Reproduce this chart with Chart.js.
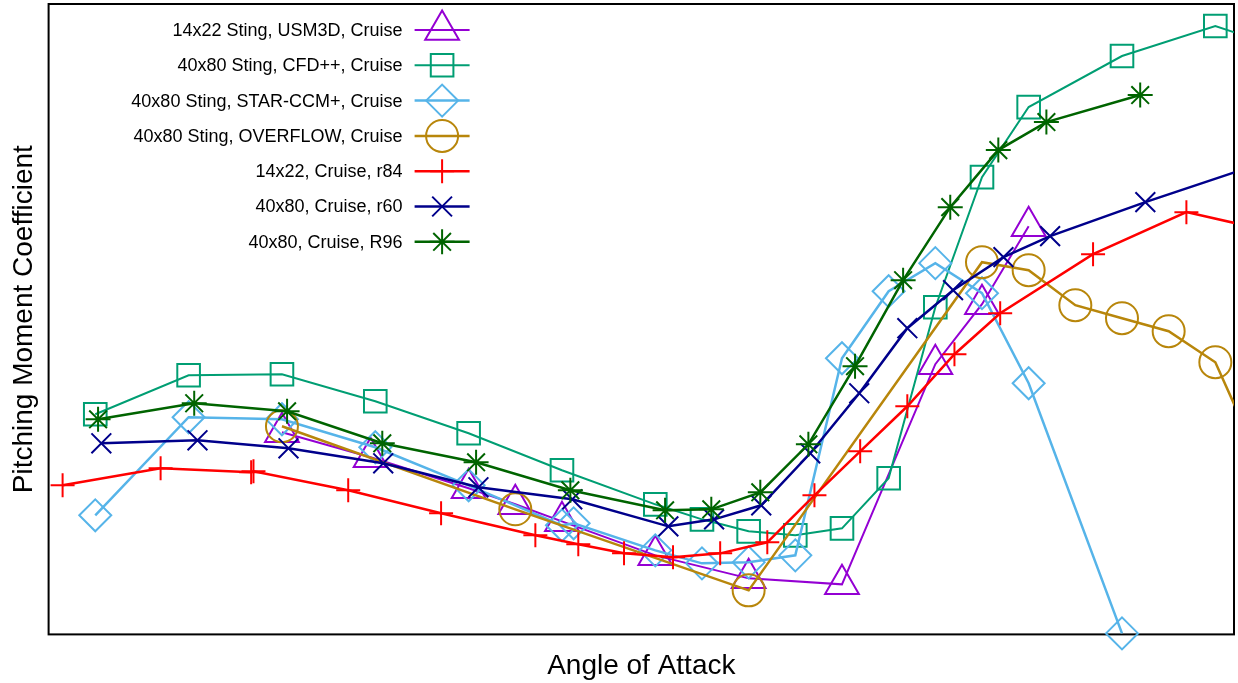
<!DOCTYPE html>
<html>
<head>
<meta charset="utf-8">
<title>Pitching Moment Coefficient vs Angle of Attack</title>
<script src="https://cdn.jsdelivr.net/npm/chart.js@4/dist/chart.umd.min.js"></script>
<style>
  html, body { margin: 0; padding: 0; background: #fff; }
  #chart-wrap { width: 1238px; height: 683px; }
</style>
</head>
<body>
<div id="chart-wrap"><canvas id="cm-chart" width="1238" height="683"></canvas></div>
<script>
// Series labels
const seriesNames = [
  '14x22 Sting, USM3D, Cruise',
  '40x80 Sting, CFD++, Cruise',
  '40x80 Sting, STAR-CCM+, Cruise',
  '40x80 Sting, OVERFLOW, Cruise',
  '14x22, Cruise, r84',
  '40x80, Cruise, r60',
  '40x80, Cruise, R96'
];

// CFD runs (angle of attack, deg / pitching moment)
const alphaUsm3d = [0, 1.9, 4, 5, 6, 8, 10, 12, 14, 15, 16];
const cmUsm3d = [-0.118, -0.143, -0.174, -0.190, -0.207, -0.241, -0.264, -0.270, -0.050, 0.010, 0.088];

const alphaCfdpp = [-4, -2, 0, 2, 4, 6, 8, 9, 10, 11, 12, 13, 14, 15, 16, 18, 20, 22];
const cmCfdpp = [-0.100, -0.061, -0.060, -0.087, -0.119, -0.156, -0.190, -0.205, -0.217, -0.221, -0.214, -0.164, 0.007, 0.137, 0.207, 0.258, 0.288, 0.257];

const alphaStar = [-4, -2, 0, 2, 4, 6, 6.25, 8, 9, 10, 11, 12, 13, 14, 15, 16, 18];
const cmStar = [-0.201, -0.103, -0.105, -0.133, -0.171, -0.211, -0.209, -0.236, -0.249, -0.248, -0.241, -0.044, 0.023, 0.051, 0.021, -0.069, -0.319];

const alphaOverflow = [0, 5, 10, 15, 16, 17, 18, 19, 20, 21];
const cmOverflow = [-0.112, -0.195, -0.276, 0.052, 0.044, 0.009, -0.004, -0.017, -0.048, -0.152];

// Wind tunnel runs
const alphaR84 = [-4.7, -2.6, -0.66, -0.61, 1.42, 3.41, 5.43, 6.35, 7.33, 8.38, 9.39, 10.40, 11.41, 12.39, 13.40, 14.41, 15.39, 17.38, 19.38, 21.38];
const cmR84 = [-0.171, -0.154, -0.158, -0.157, -0.176, -0.199, -0.221, -0.230, -0.239, -0.243, -0.239, -0.228, -0.181, -0.137, -0.092, -0.040, 0.001, 0.060, 0.102, 0.081];

const alphaR60 = [-3.87, -1.81, 0.14, 2.17, 4.21, 6.22, 8.28, 9.26, 10.27, 11.32, 12.37, 13.40, 14.38, 15.46, 16.46, 18.50, 21];
const cmR60 = [-0.129, -0.126, -0.134, -0.149, -0.173, -0.185, -0.212, -0.205, -0.191, -0.139, -0.079, -0.014, 0.024, 0.057, 0.078, 0.112, 0.151];

const alphaR96 = [-3.94, -1.88, 0.11, 2.15, 4.16, 6.18, 8.21, 9.20, 10.25, 11.28, 12.28, 13.31, 14.32, 15.35, 16.38, 18.39];
const cmR96 = [-0.105, -0.089, -0.097, -0.129, -0.148, -0.176, -0.196, -0.195, -0.178, -0.130, -0.052, 0.034, 0.107, 0.164, 0.192, 0.219];

Chart.defaults.font.family = '"Liberation Sans", Arial, sans-serif';
Chart.defaults.color = '#000';

// Build one line dataset from an alpha / cm pair
function makeSeries(index, alphas, cms, color, style, radius, width) {
  return {
    label: seriesNames[index],
    data: alphas.map((a, i) => ({ x: a, y: cms[i] })),
    borderColor: color,
    backgroundColor: 'rgba(0,0,0,0)',
    borderWidth: width,
    pointStyle: style,
    pointRadius: radius,
    pointBorderWidth: 2,
    pointBorderColor: color,
    pointBackgroundColor: 'rgba(0,0,0,0)',
    fill: false,
    tension: 0,
    clip: { left: 0, top: 20, right: 0, bottom: 20 },
    order: 7 - index
  };
}

// Box around the plot area
const frameBox = {
  id: 'frameBox',
  beforeDatasetsDraw(chart) {
    const { ctx, chartArea: a } = chart;
    ctx.save();
    ctx.strokeStyle = '#000';
    ctx.lineWidth = 2;
    ctx.strokeRect(a.left, a.top, a.right - a.left, a.bottom - a.top);
    ctx.restore();
  }
};

// Legend in the upper left corner, text on the left and sample on the right
const cornerLegend = {
  id: 'cornerLegend',
  afterDraw(chart) {
    const { ctx, chartArea: a } = chart;
    const textRight = a.left + 354;
    const lineStart = a.left + 366;
    const lineEnd = a.left + 421;
    ctx.save();
    ctx.font = '18px "Liberation Sans", Arial, sans-serif';
    ctx.textAlign = 'right';
    ctx.textBaseline = 'middle';
    chart.data.datasets.forEach((ds, i) => {
      const y = a.top + 26 + i * 35.3;
      ctx.fillStyle = '#000';
      ctx.fillText(ds.label, textRight, y + 1);
      ctx.strokeStyle = ds.borderColor;
      ctx.lineWidth = ds.borderWidth;
      ctx.beginPath();
      ctx.moveTo(lineStart, y);
      ctx.lineTo(lineEnd, y);
      ctx.stroke();
      ctx.fillStyle = 'rgba(0,0,0,0)';
      ctx.lineWidth = ds.pointBorderWidth;
      Chart.helpers.drawPoint(ctx, {
        pointStyle: ds.pointStyle,
        radius: ds.pointRadius,
        borderWidth: ds.pointBorderWidth,
        rotation: 0
      }, (lineStart + lineEnd) / 2, y);
    });
    ctx.restore();
  }
};

const ctx = document.getElementById('cm-chart').getContext('2d');
const cmChart = new Chart(ctx, {
  type: 'line',
  data: {
    datasets: [
      makeSeries(0, alphaUsm3d, cmUsm3d, '#9400D3', 'triangle', 19.5, 2),
      makeSeries(1, alphaCfdpp, cmCfdpp, '#009E73', 'rect', 16, 2),
      makeSeries(2, alphaStar, cmStar, '#56B4E9', 'rectRot', 16, 2.5),
      makeSeries(3, alphaOverflow, cmOverflow, '#B8860B', 'circle', 16, 2.5),
      makeSeries(4, alphaR84, cmR84, '#FF0000', 'cross', 12, 2.5),
      makeSeries(5, alphaR60, cmR60, '#00008B', 'crossRot', 14, 2.5),
      makeSeries(6, alphaR96, cmR96, '#006400', 'star', 12.5, 2.5)
    ]
  },
  options: {
    responsive: false,
    animation: false,
    devicePixelRatio: 1,
    events: [],
    layout: { autoPadding: false, padding: { top: 4, right: 4, bottom: 0, left: 0 } },
    scales: {
      x: {
        type: 'linear',
        min: -5,
        max: 20.4,
        ticks: { display: false },
        grid: { display: false, drawTicks: false },
        border: { display: false },
        title: {
          display: true,
          text: 'Angle of Attack',
          color: '#000',
          font: { size: 28 },
          padding: { top: 15, bottom: 0 }
        }
      },
      y: {
        type: 'linear',
        min: -0.32,
        max: 0.31,
        ticks: { display: false },
        grid: { display: false, drawTicks: false },
        border: { display: false },
        title: {
          display: true,
          text: 'Pitching Moment Coefficient',
          color: '#000',
          font: { size: 28 },
          padding: { top: 7, bottom: 8 }
        }
      }
    },
    plugins: {
      legend: { display: false },
      tooltip: { enabled: false }
    }
  },
  plugins: [frameBox, cornerLegend]
});
</script>
</body>
</html>
